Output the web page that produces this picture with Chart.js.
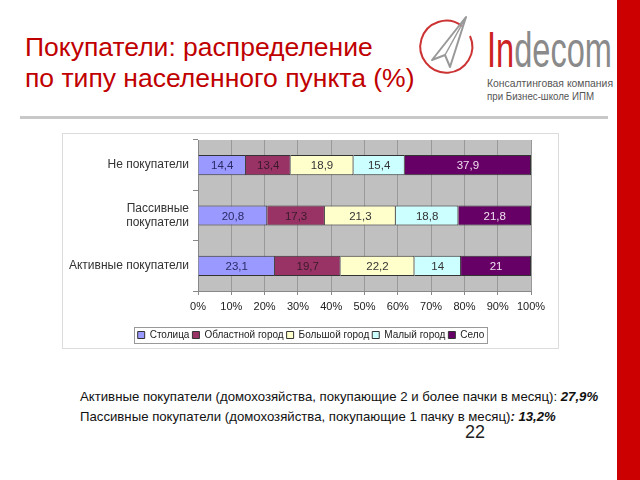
<!DOCTYPE html>
<html>
<head>
<meta charset="utf-8">
<script src="https://cdn.jsdelivr.net/npm/chart.js@4/dist/chart.umd.min.js"></script>
<style>
  body { margin:0; background:#fff; font-family: Arial, "Liberation Sans", sans-serif; }
  #page { position:relative; width:640px; height:480px; overflow:hidden; }
  #title { position:absolute; left:25px; top:32px; font-size:26.5px; line-height:31px; color:#c00000; }
  #frame { position:absolute; left:62px; top:133px; width:495px; height:214px; border:1px solid #dcdcdc; }
  #frame canvas { position:absolute; left:0; top:0; }
  #notes { position:absolute; left:80px; top:387px; font-size:13.2px; line-height:20px; color:#111; }
  #pagenum { position:absolute; left:465px; top:422px; font-size:18px; color:#222; }
  #redbar { position:absolute; left:617px; top:0; width:23px; height:480px; background:#cc0000; }
  svg { position:absolute; left:0; top:0; }
</style>
</head>
<body>
<div id="page">
  <svg width="640" height="480">
    <path d="M462 26 A26 26 0 1 0 470 36" fill="none" stroke="#cc3333" stroke-width="2"/>
    <path d="M466 17 L432 60 L445 55 L450 67 Z" fill="none" stroke="#999" stroke-width="2" stroke-linejoin="round"/>
    <path d="M466 17 L445 55" stroke="#999" stroke-width="1.5"/>
    <text x="487" y="67" font-family="'Liberation Sans Narrow', Arial, sans-serif" font-size="50" textLength="125" lengthAdjust="spacingAndGlyphs"><tspan fill="#cc2222">In</tspan><tspan fill="#8a8a8a">decom</tspan></text>
    <text x="487" y="87" font-family="Arial, sans-serif" font-size="11" fill="#555" textLength="126" lengthAdjust="spacingAndGlyphs">Консалтинговая компания</text>
    <text x="487" y="100" font-family="Arial, sans-serif" font-size="11" fill="#555" textLength="107" lengthAdjust="spacingAndGlyphs">при Бизнес-школе ИПМ</text>
    <rect x="20" y="116" width="588" height="3" fill="#c8c8c8"/>
  </svg>
  <div id="title">Покупатели: распределение<br>по типу населенного пункта (%)</div>
  <div id="frame"><canvas id="mycanvas" width="495" height="220"></canvas></div>
  <div id="notes">Активные покупатели (домохозяйства, покупающие 2 и более пачки в месяц): <b><i>27,9%</i></b><br>Пассивные покупатели (домохозяйства, покупающие 1 пачку в месяц)<b><i>: 13,2%</i></b></div>
  <div id="pagenum">22</div>
  <div id="redbar"></div>
</div>
<script>
// categories (top to bottom)
var groups = ["Не покупатели", ["Пассивные", "покупатели"], "Активные покупатели"];
var seriesNames = ["Столица", "Областной город", "Большой город", "Малый город", "Село"];
// shares, %
var stolica = [14.4, 20.8, 23.1];
var oblastnoy = [13.4, 17.3, 19.7];
var bolshoy = [18.9, 21.3, 22.2];
var maly = [15.4, 18.8, 14];
var selo = [37.9, 21.8, 21];
var xTicks = ["0%", "10%", "20%", "30%", "40%", "50%", "60%", "70%", "80%", "90%", "100%"];

var fills = ["#9999ff", "#993366", "#ffffcc", "#ccffff", "#660066"];
var labelColors = ["#2a2a66", "#3a1a2a", "#333333", "#333333", "#f0e0f0"];
var allData = [stolica, oblastnoy, bolshoy, maly, selo];

var datasets = [];
for (var i = 0; i < seriesNames.length; i++) {
  datasets.push({
    label: seriesNames[i],
    data: allData[i],
    backgroundColor: fills[i],
    borderColor: "#333",
    borderWidth: 1,
    barPercentage: 0.4,
    categoryPercentage: 1
  });
}

var plotBg = {
  id: "plotBg",
  beforeDraw: function(chart) {
    var a = chart.chartArea, c = chart.ctx;
    c.save();
    c.fillStyle = "#c0c0c0";
    c.fillRect(a.left, a.top, a.right - a.left, a.bottom - a.top);
    c.restore();
  }
};

var barLabels = {
  id: "barLabels",
  afterDatasetsDraw: function(chart) {
    var c = chart.ctx;
    c.save();
    c.font = "11.5px Arial";
    c.textAlign = "center";
    c.textBaseline = "middle";
    chart.data.datasets.forEach(function(ds, i) {
      chart.getDatasetMeta(i).data.forEach(function(bar, j) {
        var p = bar.getProps(["x", "y", "base"], true);
        c.fillStyle = labelColors[i];
        c.fillText(String(ds.data[j]).replace(".", ","), (p.x + p.base) / 2, p.y + 1);
      });
    });
    c.restore();
  }
};

// shift the legend so it is centred on the whole frame, and draw its border
var legendBox = {
  id: "legendBox",
  afterLayout: function(chart) {
    chart.legend.left += 14;
    chart.legend.right += 14;
  },
  afterDraw: function(chart) {
    var boxes = chart.legend.legendHitBoxes;
    if (!boxes || !boxes.length) return;
    var l = Infinity, r = -Infinity, t = Infinity, b = -Infinity;
    boxes.forEach(function(h) {
      l = Math.min(l, h.left); r = Math.max(r, h.left + h.width);
      t = Math.min(t, h.top); b = Math.max(b, h.top + h.height);
    });
    var c = chart.ctx;
    c.save();
    c.strokeStyle = "#999";
    c.lineWidth = 1;
    c.strokeRect(Math.round(l - 4) + 0.5, Math.round(t - 3) + 0.5, Math.round(r - l + 6), Math.round(b - t + 6));
    c.restore();
  }
};

var ctx = document.getElementById("mycanvas");
var barChart = new Chart(ctx, {
  type: "bar",
  data: { labels: groups, datasets: datasets },
  options: {
    indexAxis: "y",
    responsive: false,
    animation: false,
    layout: { padding: { top: 6, right: 27, bottom: 4, left: 0 } },
    scales: {
      x: {
        stacked: true,
        min: 0,
        max: 100,
        ticks: {
          stepSize: 10,
          color: "#222",
          font: { size: 11, family: "Arial" },
          padding: 5,
          maxRotation: 0,
          autoSkip: false,
          callback: function(v, idx) { return xTicks[idx]; }
        },
        grid: { color: "#999", tickLength: 4, tickColor: "#888" },
        border: { color: "#888" },
        afterFit: function(s) { s.height = 36; }
      },
      y: {
        stacked: true,
        ticks: { color: "#333", font: { size: 12, family: "Arial" }, padding: 4 },
        grid: { drawOnChartArea: false, tickLength: 5, color: "#888" },
        border: { color: "#888" },
        afterFit: function(s) { s.width = 135; s.paddingTop = 0; s.paddingBottom = 0; }
      }
    },
    plugins: {
      legend: {
        position: "bottom",
        labels: {
          boxWidth: 7,
          boxHeight: 7,
          padding: 3,
          color: "#222",
          font: { size: 10, family: "Arial" }
        }
      },
      tooltip: { enabled: false }
    }
  },
  plugins: [plotBg, barLabels, legendBox]
});
</script>
</body>
</html>
